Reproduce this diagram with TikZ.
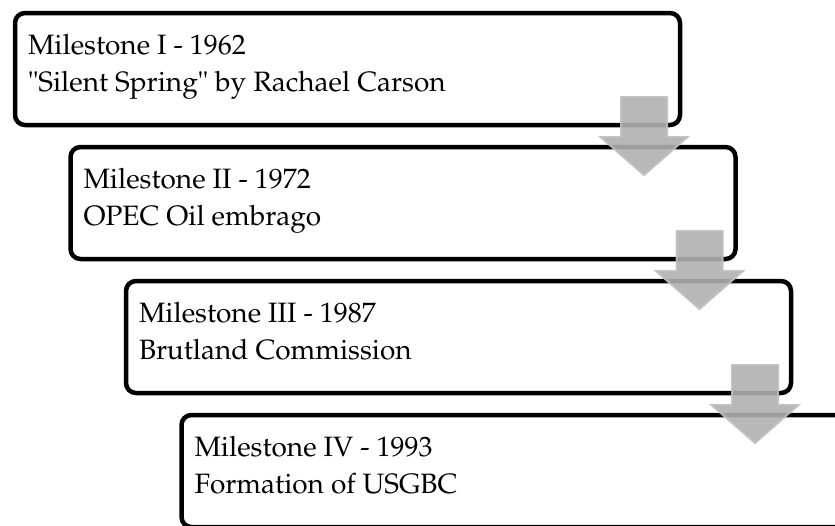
\documentclass[tikz,border=0pt]{standalone}
\usepackage[T1]{fontenc}
\usepackage{palatino}
\begin{document}
\begin{tikzpicture}[x=1pt,y=1pt,
  boxstyle/.style={draw=black, line width=4.5pt, rounded corners=10pt,
    minimum width=665pt, minimum height=112pt, inner sep=0pt, outer sep=0pt,
    anchor=north west},
  txt/.style={anchor=base west, inner sep=0pt, outer sep=0pt,
    font=\fontsize{28}{33}\selectfont},
  arrowstyle/.style={fill=gray!62, fill opacity=0.9, draw=gray!50,
    draw opacity=0.9, line width=2pt, line join=miter}]
\useasboundingbox (0,0) rectangle (835,-525);
\clip (0,0) rectangle (835,-525);
% boxes
\node[boxstyle] (b1) at (15,-13) {};
\node[boxstyle] (b2) at (70.5,-147) {};
\node[boxstyle] (b3) at (126,-281) {};
\node[boxstyle] (b4) at (181.5,-415) {};
% texts
\node[txt] (t1a) at ([shift={(13,-41.5)}]b1.north west) {Milestone I - 1962};
\node[txt] (t1b) at ([shift={(13,-78.5)}]b1.north west) {\textquotedbl Silent Spring\textquotedbl{} by Rachael Carson};
\node[txt] (t2a) at ([shift={(13,-41.5)}]b2.north west) {Milestone II - 1972};
\node[txt] (t2b) at ([shift={(13,-78.5)}]b2.north west) {OPEC Oil embrago};
\node[txt] (t3a) at ([shift={(13,-41.5)}]b3.north west) {Milestone III - 1987};
\node[txt] (t3b) at ([shift={(13,-78.5)}]b3.north west) {Brutland Commission};
\node[txt] (t4a) at ([shift={(13,-41.5)}]b4.north west) {Milestone IV - 1993};
\node[txt] (t4b) at ([shift={(13,-78.5)}]b4.north west) {Formation of USGBC};
% arrows
\coordinate (a1) at ([shift={(-36,28)}]b1.south east);
\coordinate (a2) at ([shift={(-36,28)}]b2.south east);
\coordinate (a3) at ([shift={(-36,28)}]b3.south east);
\foreach \a in {a1,a2,a3}{
  \draw[arrowstyle, shift={(\a)}] (-23,0) -- (23,0) -- (23,-40) -- (43.5,-40)
    -- (0,-78) -- (-43.5,-40) -- (-23,-40) -- cycle;
}
\end{tikzpicture}
\end{document}
